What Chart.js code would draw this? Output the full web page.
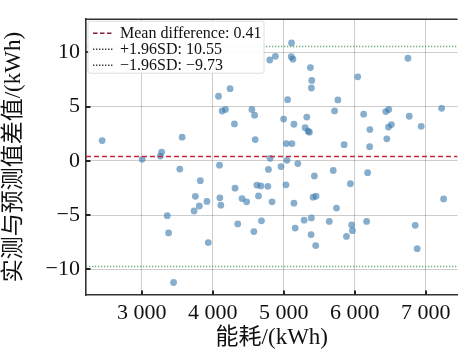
<!DOCTYPE html>
<html>
<head>
<meta charset="utf-8">
<script src="https://cdn.jsdelivr.net/npm/chart.js@4.4.1/dist/chart.umd.min.js"></script>
<style>
  html, body { margin: 0; padding: 0; background: #fff; }
  #wrap { width: 461px; height: 352px; }
</style>
</head>
<body>
<div id="wrap"><canvas id="bland"></canvas></div>
<script>
const energy = [2441, 3005, 3261, 3279, 3535, 3568, 3358, 3377, 3447, 3754,
  3736, 3810, 3824, 3917, 3936, 4080, 4094, 4099, 4113, 4131,
  4178, 4243, 4304, 4313, 4350, 4411, 4476, 4550, 4588, 4597,
  4578, 4620, 4643, 4676, 4685, 4774, 4783, 4806, 4802, 4881,
  4834, 4960, 4997, 5030, 5034, 5044, 5053, 5109, 5104, 5128,
  5114, 5142, 5142, 5160, 5197, 5286, 5300, 5323, 5342, 5360,
  5374, 5393, 5388, 5388, 5384, 5430, 5412, 5453, 5449, 5640,
  5696, 5714, 5761, 5742, 5849, 5882, 5937, 5956, 5966, 6040,
  6124, 6166, 6180, 6208, 6212, 6436, 6478, 6473, 6450, 6515,
  6748, 6766, 6850, 6878, 6934, 7222, 7250];
const diff = [1.88, 0.15, 0.45, 0.82, -0.75, 2.19, -5.04, -6.63, -11.2, -3.26,
  -4.61, -4.15, -1.82, -3.73, -7.52, 5.96, -0.39, -3.40, -4.07, 4.60,
  4.75, 6.66, 3.41, -2.51, -5.80, -3.47, -3.77, 4.75, 4.22, 1.97,
  -6.51, -2.22, -3.22, -2.30, -5.52, -2.34, -0.78, 0.24, 9.30, 9.64,
  -3.77, -0.52, 3.86, -2.20, 1.60, 0.06, 5.65, 10.87, 9.60, 9.38,
  1.60, 3.38, -3.89, -6.18, -0.24, -5.46, 3.07, 4.04, 2.74, 2.65,
  8.60, 7.42, 6.72, -5.25, -6.78, -1.38, -3.34, -3.25, -7.80, -5.57,
  -0.88, 4.61, 5.62, -4.34, 1.50, -6.95, -2.10, -5.89, -6.42, 7.75,
  4.31, -5.57, -1.08, 1.32, 2.89, 4.55, 4.74, 3.12, 2.04, 3.35,
  9.46, 4.12, -5.93, -8.08, 3.19, 4.85, -3.50];

const meanDiff = 0.41;
const upperLoA = 10.55;
const lowerLoA = -9.73;
const legendLabels = ['Mean difference: 0.41', '+1.96SD: 10.55', '\u22121.96SD: \u22129.73'];

const xTicks = [3000, 4000, 5000, 6000, 7000];
const yTicks = [-10, -5, 0, 5, 10];
const xMin = 2214, xMax = 7447;
const yMin = -12.35, yMax = 13.06;

const serif = "'Liberation Serif', 'Noto Sans CJK SC', serif";
const meanColor = 'rgb(196, 40, 58)';
const sdColor = 'rgba(80, 150, 90, 0.8)';

const points = energy.map((e, i) => ({ x: e, y: diff[i] }));
const hline = v => [{ x: xMin, y: v }, { x: xMax, y: v }];

const fmtX = v => {
  const s = String(v);
  return s.length > 3 ? s.slice(0, -3) + ' ' + s.slice(-3) : s;
};
const fmtY = v => (v < 0 ? '\u2212' + Math.abs(v) : String(v));

// inward tick marks, top frame and boxed legend in the upper-left corner
const decorations = {
  id: 'decorations',
  afterDraw(chart) {
    const { ctx, chartArea: a, scales } = chart;
    ctx.save();
    ctx.strokeStyle = '#222';
    ctx.lineWidth = 2;
    ctx.beginPath();
    xTicks.forEach(v => {
      const px = Math.round(scales.x.getPixelForValue(v));
      ctx.moveTo(px, a.bottom);
      ctx.lineTo(px, a.bottom - 4.5);
    });
    yTicks.forEach(v => {
      const py = Math.round(scales.y.getPixelForValue(v));
      ctx.moveTo(a.left, py);
      ctx.lineTo(a.left + 4.5, py);
    });
    ctx.stroke();

    ctx.strokeStyle = '#333';
    ctx.lineWidth = 1.6;
    ctx.beginPath();
    ctx.moveTo(a.left, a.top);
    ctx.lineTo(a.right, a.top);
    ctx.stroke();

    // legend box
    const bx = a.left + 2, by = a.top + 2, bw = 176, bh = 52;
    ctx.fillStyle = 'rgba(255,255,255,0.92)';
    ctx.strokeStyle = 'rgba(200,200,200,0.6)';
    ctx.lineWidth = 1;
    ctx.beginPath();
    ctx.roundRect(bx, by, bw, bh, 2);
    ctx.fill();
    ctx.stroke();

    const styles = [
      { color: 'rgb(130, 30, 55)', dash: [4.5, 2.5] },
      { color: 'rgb(60, 60, 60)', dash: [1.4, 1.6] },
      { color: 'rgb(60, 60, 60)', dash: [1.4, 1.6] }
    ];
    ctx.font = '16px ' + serif;
    ctx.textBaseline = 'middle';
    legendLabels.forEach((t, i) => {
      const cy = a.top + 14 + i * 16;
      ctx.strokeStyle = styles[i].color;
      ctx.lineWidth = 1.5;
      ctx.setLineDash(styles[i].dash);
      ctx.beginPath();
      ctx.moveTo(a.left + 7, cy);
      ctx.lineTo(a.left + 27, cy);
      ctx.stroke();
      ctx.setLineDash([]);
      ctx.fillStyle = '#111';
      ctx.fillText(t, a.left + 34, cy + 1);
    });
    ctx.restore();
  }
};

const ctx = document.getElementById('bland').getContext('2d');
new Chart(ctx, {
  type: 'scatter',
  data: {
    datasets: [
      {
        label: 'points',
        data: points,
        order: 3,
        backgroundColor: 'rgba(55, 120, 172, 0.6)',
        borderWidth: 0,
        pointRadius: 3.4,
        pointHoverRadius: 3.4
      },
      {
        label: legendLabels[0],
        data: hline(meanDiff),
        order: 1,
        showLine: true,
        borderColor: meanColor,
        borderWidth: 1.6,
        borderDash: [5, 3],
        pointRadius: 0
      },
      {
        label: legendLabels[1],
        data: hline(upperLoA),
        order: 2,
        showLine: true,
        borderColor: sdColor,
        borderWidth: 1.6,
        borderDash: [1.3, 1.7],
        pointRadius: 0
      },
      {
        label: legendLabels[2],
        data: hline(lowerLoA),
        order: 2,
        showLine: true,
        borderColor: sdColor,
        borderWidth: 1.6,
        borderDash: [1.3, 1.7],
        pointRadius: 0
      }
    ]
  },
  options: {
    responsive: true,
    maintainAspectRatio: false,
    animation: false,
    layout: { padding: { top: 13, right: 0, left: 0, bottom: 0 } },
    scales: {
      x: {
        type: 'linear',
        min: xMin,
        max: xMax,
        afterBuildTicks: s => { s.ticks = xTicks.map(v => ({ value: v })); },
        afterFit: s => { s.height = 57; },
        grid: { color: 'rgba(0,0,0,0.2)', lineWidth: 1, drawTicks: false },
        border: { color: '#333', width: 1.6 },
        ticks: {
          color: '#111',
          padding: 5,
          maxRotation: 0,
          font: { family: serif, size: 22 },
          callback: v => fmtX(v)
        },
        title: {
          display: true,
          text: '能耗/(kWh)',
          color: '#111',
          padding: { top: -4, bottom: 0 },
          font: { family: serif, size: 23 }
        }
      },
      y: {
        type: 'linear',
        min: yMin,
        max: yMax,
        afterBuildTicks: s => { s.ticks = yTicks.map(v => ({ value: v })); },
        afterFit: s => { s.width = 86; },
        grid: { color: 'rgba(0,0,0,0.2)', lineWidth: 1, drawTicks: false },
        border: { color: '#333', width: 1.6 },
        ticks: {
          color: '#111',
          padding: 6,
          font: { family: serif, size: 22 },
          callback: v => fmtY(v)
        },
        title: {
          display: true,
          text: '实测与预测值差值/(kWh)',
          color: '#111',
          padding: { top: 0, bottom: 0 },
          font: { family: serif, size: 23 }
        }
      }
    },
    plugins: {
      legend: { display: false },
      tooltip: { enabled: false }
    }
  },
  plugins: [decorations]
});
</script>
</body>
</html>
